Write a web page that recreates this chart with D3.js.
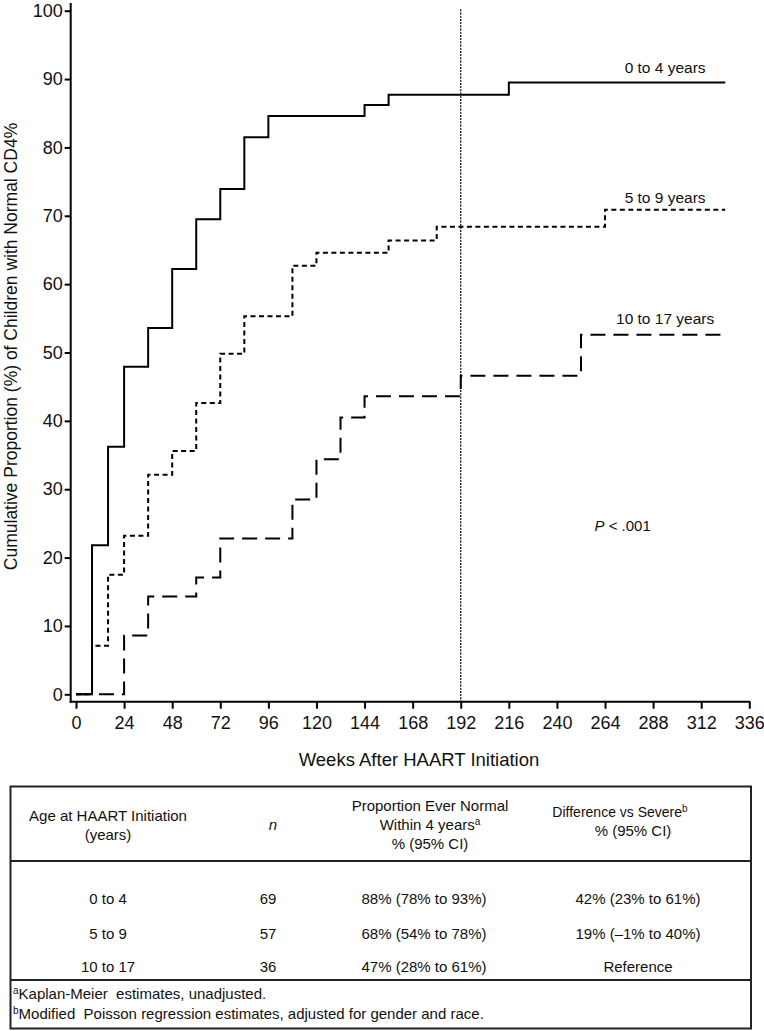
<!DOCTYPE html>
<html><head><meta charset="utf-8">
<script src="https://cdn.jsdelivr.net/npm/d3@7"></script>
<style>
html,body{margin:0;padding:0;background:#fff;}
svg{display:block;font-family:"Liberation Sans",Arial,Helvetica,sans-serif;}
</style></head><body>
<svg id="chart" width="764" height="1031"></svg>
<script>
// ---------- data ----------
const weekTicks = [0, 24, 48, 72, 96, 120, 144, 168, 192, 216, 240, 264, 288, 312, 336];
const pctTicks = [0, 10, 20, 30, 40, 50, 60, 70, 80, 90, 100];

const seriesNames = ["0 to 4 years", "5 to 9 years", "10 to 17 years"];

const weeks0to4 = [0, 8, 16, 24, 36, 48, 60, 72, 84, 96, 144, 156, 216, 324];
const pct0to4   = [0, 21.8, 36.2, 47.9, 53.6, 62.2, 69.5, 73.9, 81.5, 84.6, 86.2, 87.7, 89.5, 89.5];

const weeks5to9 = [0, 8, 16, 24, 36, 48, 60, 72, 84, 108, 120, 156, 180, 264, 324];
const pct5to9   = [0, 7.1, 17.5, 23.2, 32.1, 35.6, 42.6, 49.8, 55.3, 62.7, 64.6, 66.4, 68.4, 70.9, 70.9];

const weeks10to17 = [0, 24, 36, 60, 72, 108, 120, 132, 144, 192, 252, 324];
const pct10to17   = [0, 8.6, 14.3, 17.1, 22.8, 28.5, 34.4, 40.5, 43.6, 46.6, 52.6, 52.6];

const refWeek = 192;
const pValueText = ".001";

// table
const tableAges = ["0 to 4", "5 to 9", "10 to 17"];
const tableN = [69, 57, 36];
const tableProp = ["88% (78% to 93%)", "68% (54% to 78%)", "47% (28% to 61%)"];
const tableDiff = ["42% (23% to 61%)", "19% (\u20131% to 40%)", "Reference"];
const footnoteA = "Kaplan-Meier  estimates, unadjusted.";
const footnoteB = "Modified  Poisson regression estimates, adjusted for gender and race.";

// ---------- drawing ----------
const svg = d3.select("#chart");
const x = d3.scaleLinear().domain([0, 336]).range([76, 749.3]);
const y = d3.scaleLinear().domain([0, 100]).range([694.3, 10.7]);
const axisX = 70.7, axisY = 701.7;

// y axis
const yAxis = d3.axisLeft(y).tickValues(pctTicks).tickSize(6).tickPadding(2);
const gy = svg.append("g").attr("transform", `translate(${axisX},0)`).call(yAxis);
gy.select(".domain").remove();
gy.selectAll(".tick line").attr("stroke", "#000").attr("stroke-width", 2);
gy.selectAll(".tick text").attr("font-size", 18).attr("fill", "#111")
  .attr("font-family", "Liberation Sans, Arial, sans-serif");
svg.append("line").attr("x1", axisX).attr("x2", axisX).attr("y1", 3).attr("y2", axisY + 1)
  .attr("stroke", "#000").attr("stroke-width", 2);

// x axis
const xAxis = d3.axisBottom(x).tickValues(weekTicks).tickSize(7).tickPadding(8);
const gx = svg.append("g").attr("transform", `translate(0,${axisY})`).call(xAxis);
gx.select(".domain").remove();
gx.selectAll(".tick line").attr("stroke", "#000").attr("stroke-width", 2);
gx.selectAll(".tick text").attr("font-size", 18).attr("fill", "#111")
  .attr("font-family", "Liberation Sans, Arial, sans-serif");
svg.append("line").attr("x1", axisX - 1).attr("x2", x(336) + 1).attr("y1", axisY).attr("y2", axisY)
  .attr("stroke", "#000").attr("stroke-width", 2);

// reference line at 192 weeks
svg.append("line").attr("x1", x(refWeek)).attr("x2", x(refWeek)).attr("y1", 9.3).attr("y2", axisY)
  .attr("stroke", "#000").attr("stroke-width", 1.2).attr("stroke-dasharray", "2,1.2");

// curves
const series = [
  {w: weeks0to4, p: pct0to4, dash: null, off: 9.5},
  {w: weeks5to9, p: pct5to9, dash: "5,3.5", off: 6.5},
  {w: weeks10to17, p: pct10to17, dash: "15,8", off: 11}
];
const line = d3.line().x(d => x(d[0])).y(d => y(d[1])).curve(d3.curveStepAfter);
series.slice().reverse().forEach(s => {
  const pts = s.w.map((w, i) => [w, s.p[i]]);
  svg.append("path").attr("d", line(pts)).attr("fill", "none").attr("stroke", "#000")
    .attr("stroke-width", 2).attr("stroke-dasharray", s.dash);
});
series.forEach((s, i) => {
  svg.append("text").attr("x", x(294)).attr("y", y(s.p[s.p.length - 1]) - s.off)
    .attr("text-anchor", "middle").attr("font-size", 15.5).attr("fill", "#111").text(seriesNames[i]);
});

// P value
const pv = svg.append("text").attr("x", 594.5).attr("y", 530.7).attr("font-size", 15).attr("fill", "#111");
pv.append("tspan").attr("font-style", "italic").text("P");
pv.append("tspan").text(" < " + pValueText);

// axis titles
svg.append("text").attr("transform", "translate(17,346.5) rotate(-90)").attr("text-anchor", "middle")
  .attr("font-size", 17.5).attr("fill", "#111").text("Cumulative Proportion (%) of Children with Normal CD4%");
svg.append("text").attr("x", 419).attr("y", 766).attr("text-anchor", "middle")
  .attr("font-size", 18.5).attr("fill", "#111").text("Weeks After HAART Initiation");

// ---------- table ----------
const tL = 10.5, tR = 751, tT = 786.5, tB = 1028.5;
const tg = svg.append("g").attr("fill", "#111").attr("font-size", 15);
svg.append("rect").attr("x", tL).attr("y", tT).attr("width", tR - tL).attr("height", tB - tT)
  .attr("fill", "none").attr("stroke", "#222").attr("stroke-width", 2);
[861, 980].forEach(yy => svg.append("line").attr("x1", tL).attr("x2", tR).attr("y1", yy).attr("y2", yy)
  .attr("stroke", "#222").attr("stroke-width", 2));

const colX = [108, 270, 430, 636];
function txt(xx, yy, s, anchor = "middle") {
  return tg.append("text").attr("x", xx).attr("y", yy).attr("text-anchor", anchor).text(s);
}
txt(colX[0], 820.5, "Age at HAART Initiation");
txt(colX[0], 839.5, "(years)");
txt(colX[1] + 3, 830, "n").attr("font-style", "italic");
txt(colX[2], 811, "Proportion Ever Normal");
const w4 = txt(colX[2], 830, "Within 4 years");
w4.append("tspan").attr("font-size", 10).attr("dy", -5).text("a");
txt(colX[2], 849, "% (95% CI)");
const dh = txt(colX[3] - 16, 817, "Difference vs Severe").attr("font-size", 14);
dh.append("tspan").attr("font-size", 10).attr("dy", -5).text("b");
txt(colX[3] - 3, 836, "% (95% CI)");

const rowY = [904, 939, 972];
tableAges.forEach((a, i) => {
  txt(colX[0], rowY[i], a);
  txt(colX[1] - 2, rowY[i], tableN[i]);
  txt(colX[2] - 6, rowY[i], tableProp[i]);
  txt(colX[3] + 2, rowY[i], tableDiff[i]);
});

const fa = tg.append("text").attr("x", 13).attr("y", 999).attr("xml:space", "preserve").style("white-space", "pre");
fa.append("tspan").attr("font-size", 10).attr("dy", -5).text("a");
fa.append("tspan").attr("dy", 5).text(footnoteA);
const fb = tg.append("text").attr("x", 13).attr("y", 1019).attr("xml:space", "preserve").style("white-space", "pre");
fb.append("tspan").attr("font-size", 10).attr("dy", -5).text("b");
fb.append("tspan").attr("dy", 5).text(footnoteB);
</script>
</body></html>
